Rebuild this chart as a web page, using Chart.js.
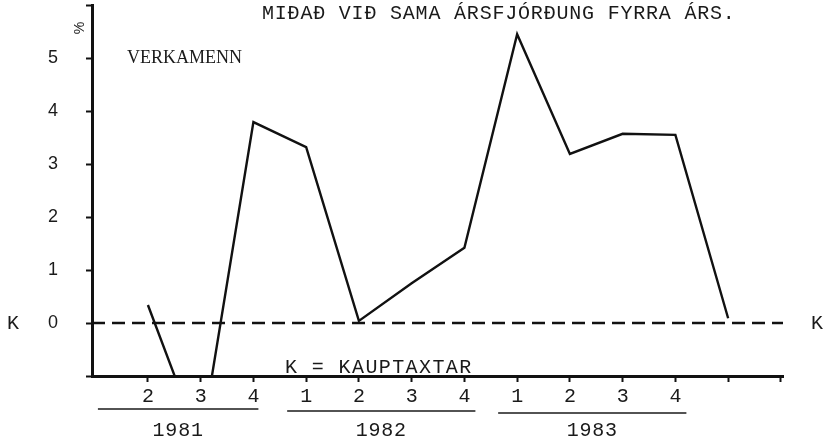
<!DOCTYPE html>
<html>
<head>
<meta charset="utf-8">
<script src="https://cdn.jsdelivr.net/npm/chart.js@4.4.1/dist/chart.umd.min.js"></script>
<style>
html,body{margin:0;padding:0;background:#fff;}
canvas{display:block;}
</style>
</head>
<body>
<canvas id="c" width="824" height="447"></canvas>
<script>
// ---- data ----
const periods = ['1981-2','1981-3','1981-4','1982-1','1982-2','1982-3','1982-4','1983-1','1983-2','1983-3','1983-4','1984-1'];
const verkamenn = [0.34, -2.3, 3.79, 3.32, 0.04, 0.75, 1.42, 5.45, 3.19, 3.57, 3.55, 0.09];
const quarterLabels = ['2','3','4','1','2','3','4','1','2','3','4','',''];
const yearLabels = ['1981','1982','1983'];
const yearFirstQuarter = [1, 4, 8];
const yearLastQuarter = [3, 7, 11];
const yTickLabels = ['0','1','2','3','4','5'];
const kauptaxtar = [0, 0];
const titleText = 'MIÐAÐ VIÐ SAMA ÁRSFJÓRÐUNG FYRRA ÁRS.';
const seriesText = 'VERKAMENN';
const legendText = 'K = KAUPTAXTAR';

const X_MIN = -0.06, X_MAX = 13.04;
const MONO = '"Liberation Mono", "DejaVu Sans Mono", monospace';

const lineData = verkamenn.map((v, i) => ({x: i + 1, y: v}));
const dashData = [{x: X_MIN, y: kauptaxtar[0]}, {x: X_MAX, y: kauptaxtar[1]}];

const textPlugin = {
  id: 'texts',
  beforeDraw(chart) {
    const ctx = chart.ctx;
    ctx.save();
    ctx.fillStyle = '#fff';
    ctx.fillRect(0, 0, chart.width, chart.height);
    ctx.restore();
  },
  afterDraw(chart) {
    const ctx = chart.ctx;
    const xs = chart.scales.x, ys = chart.scales.y;
    const ca = chart.chartArea;
    ctx.save();
    ctx.fillStyle = '#1a1a1a';
    ctx.strokeStyle = '#1a1a1a';
    // title
    ctx.font = '20px ' + MONO;
    ctx.letterSpacing = '0.8px';
    ctx.textAlign = 'left';
    ctx.textBaseline = 'middle';
    ctx.fillText(titleText, 262, 14);
    // series name
    ctx.letterSpacing = '0px';
    ctx.font = '18px "Liberation Serif", serif';
    ctx.fillText(seriesText, 127, 58);
    // percent sign rotated
    ctx.save();
    ctx.translate(80, 28);
    ctx.rotate(-Math.PI / 2);
    ctx.font = '14px "Liberation Sans", sans-serif';
    ctx.textAlign = 'center';
    ctx.fillText('%', 0, 0);
    ctx.restore();
    // K markers
    const y0 = ys.getPixelForValue(0);
    ctx.font = '20px ' + MONO;
    ctx.textAlign = 'center';
    ctx.fillText('K', 13, y0 + 1);
    ctx.fillText('K', 817, y0 + 1);
    // legend text
    ctx.textAlign = 'left';
    ctx.letterSpacing = '1.4px';
    ctx.fillText(legendText, 285, ca.bottom - 8);
    ctx.letterSpacing = '0.8px';
    // year underlines + labels
    ctx.lineWidth = 1.6;
    for (let i = 0; i < yearLabels.length; i++) {
      const x1 = xs.getPixelForValue(yearFirstQuarter[i]) - (i === 0 ? 50 : 19);
      const x2 = xs.getPixelForValue(yearLastQuarter[i]) + (i === 0 ? 5 : 11);
      const yl = ca.bottom + 33 + i * 2;
      ctx.beginPath();
      ctx.moveTo(x1, yl);
      ctx.lineTo(x2, yl);
      ctx.stroke();
      ctx.textAlign = 'center';
      ctx.fillText(yearLabels[i], (x1 + x2) / 2, ca.bottom + 55);
    }
    ctx.restore();
  }
};

new Chart(document.getElementById('c'), {
  type: 'line',
  data: {
    datasets: [
      {
        label: 'Verkamenn',
        data: lineData,
        borderColor: '#111',
        borderWidth: 2.4,
        pointRadius: 0,
        tension: 0,
        fill: false
      },
      {
        label: 'Kauptaxtar',
        data: dashData,
        borderColor: '#111',
        borderWidth: 2.4,
        borderDash: [13, 7],
        pointRadius: 0,
        tension: 0,
        fill: false
      }
    ]
  },
  options: {
    responsive: false,
    devicePixelRatio: 1,
    animation: false,
    layout: {padding: {top: 5, right: 41, left: 0, bottom: 0}},
    plugins: {legend: {display: false}, tooltip: {enabled: false}, title: {display: false}},
    scales: {
      x: {
        type: 'linear',
        min: X_MIN,
        max: X_MAX,
        afterFit(s) { s.height = 71; s.paddingLeft = 0; s.paddingRight = 0; },
        afterBuildTicks(s) { s.ticks = quarterLabels.map((_, i) => ({value: i + 1})); },
        border: {display: true, color: '#111', width: 3},
        grid: {display: true, drawOnChartArea: false, drawTicks: true, tickLength: 6, tickWidth: 2, color: '#111'},
        ticks: {
          autoSkip: false,
          maxRotation: 0,
          padding: 3,
          color: '#1a1a1a',
          font: {family: MONO, size: 20},
          callback: (v) => quarterLabels[Math.round(v) - 1] ?? ''
        }
      },
      y: {
        type: 'linear',
        min: -1,
        max: 6,
        afterFit(s) { s.width = 92; s.paddingTop = 0; s.paddingBottom = 0; },
        border: {display: true, color: '#111', width: 3},
        grid: {display: true, drawOnChartArea: false, drawTicks: true, tickLength: 6, tickWidth: 2, color: '#111'},
        ticks: {
          stepSize: 1,
          padding: 28,
          color: '#1a1a1a',
          font: {family: '"Liberation Sans", sans-serif', size: 18},
          callback: (v) => (v >= 0 && v < yTickLabels.length) ? yTickLabels[v] : ''
        }
      }
    }
  },
  plugins: [textPlugin]
});
</script>
</body>
</html>
